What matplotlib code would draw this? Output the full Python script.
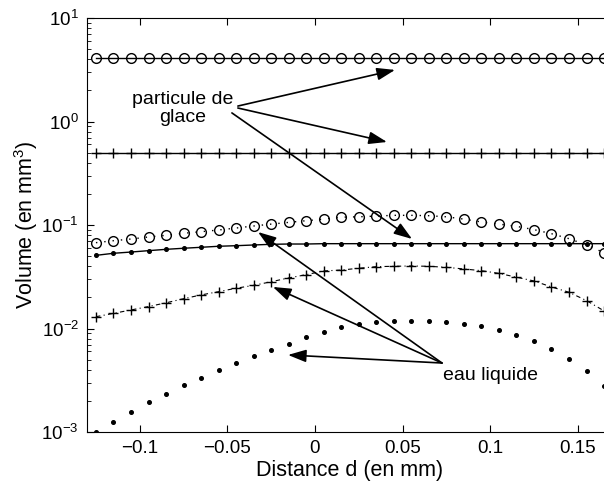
import matplotlib
matplotlib.use('Agg')
import matplotlib.pyplot as plt
import numpy as np

plt.rcParams['font.family'] = ['Liberation Sans', 'DejaVu Sans']
plt.rcParams['mathtext.fontset'] = 'custom'
plt.rcParams['mathtext.rm'] = 'Liberation Sans'
plt.rcParams['mathtext.it'] = 'Liberation Sans:italic'

# distance d (mm), one point every 0.01 mm
d = np.arange(30) * 0.01 - 0.125

# ice particle volumes (constant)
glace_o = [4.15] * 30
glace_plus = [0.5] * 30

# liquid water volumes
eau_o = [0.0675, 0.0705, 0.0732, 0.0766, 0.0795, 0.0832, 0.0861, 0.0895, 0.0935, 0.0978,
         0.102, 0.106, 0.110, 0.114, 0.119, 0.120, 0.122, 0.124, 0.124, 0.123,
         0.120, 0.114, 0.107, 0.102, 0.0971, 0.0902, 0.0824, 0.0738, 0.0641, 0.0540]
eau_line = [0.0509, 0.0533, 0.0548, 0.0565, 0.0582, 0.0596, 0.0609, 0.0623, 0.0631, 0.0641,
            0.0651, 0.0655, 0.0655, 0.066, 0.066, 0.066, 0.066, 0.066, 0.066, 0.066,
            0.066, 0.066, 0.066, 0.066, 0.066, 0.066, 0.066, 0.066, 0.066, 0.066]
eau_plus = [0.0130, 0.0140, 0.0151, 0.0163, 0.0177, 0.0194, 0.0211, 0.0227, 0.0245, 0.0261,
            0.0283, 0.0308, 0.0331, 0.0360, 0.0367, 0.0382, 0.0396, 0.0399, 0.0402, 0.0399,
            0.0390, 0.0376, 0.0362, 0.0341, 0.0313, 0.0288, 0.0252, 0.0224, 0.0186, 0.0148]
eau_dot = [0.00099, 0.00126, 0.00157, 0.00194, 0.00234, 0.00283, 0.00335, 0.00397, 0.00464, 0.00542,
           0.00624, 0.00713, 0.00828, 0.00925, 0.0103, 0.0110, 0.0116, 0.0118, 0.0119, 0.0119,
           0.0116, 0.0110, 0.0105, 0.00968, 0.00865, 0.00757, 0.00638, 0.00511, 0.00391, 0.00278]

xticks = [-0.1, -0.05, 0, 0.05, 0.1, 0.15]
xticklabels = ['\u22120.1', '\u22120.05', '0', '0.05', '0.1', '0.15']

# annotation anchors (data coords)
glace_text = (-0.0753, 1.33)
glace_from = [(-0.044, 1.41), (-0.044, 1.35), (-0.0474, 1.21)]
glace_to = [(0.0457, 3.15), (0.0411, 0.634), (0.0554, 0.0733)]
eau_text = (0.0731, 0.00318)
eau_from = (0.0725, 0.00464)
eau_to = [(-0.0325, 0.0855), (-0.024, 0.0252), (-0.0154, 0.00555)]

fig = plt.figure(figsize=(6.04, 4.88), dpi=100)
ax = fig.add_axes([87.2 / 604, 1 - 432 / 488, 525.6 / 604, 414 / 488])

ax.plot(d, glace_o, 'k-', marker='o', ms=7, mfc='none', mew=1.0, lw=1.0)
ax.plot(d, glace_plus, 'k-', marker='+', ms=7.5, mew=1.0, lw=1.0)
ax.plot(d, eau_o, color='k', ls=(0, (1, 5)), marker='o', ms=7, mfc='none', mew=1.0, lw=1.0)
ax.plot(d, eau_line, 'k-', marker='o', ms=2.6, lw=1.0)
ax.plot(d, eau_plus, color='k', ls=(0, (4, 3, 1, 3)), marker='+', ms=7.5, mew=1.0, lw=0.8)
ax.plot(d, eau_dot, 'k', ls='none', marker='o', ms=2.6)

ax.set_yscale('log')
ax.set_xlim(-0.13, 0.17)
ax.set_ylim(1e-3, 1e1)
ax.set_xticks(xticks)
ax.set_xticklabels(xticklabels)
ax.tick_params(which='both', direction='in', top=True, right=True, labelsize=13.5, pad=6)
ax.tick_params(which='major', length=5)
ax.tick_params(which='minor', length=3)
ax.set_xlabel('Distance d (en mm)', fontsize=15.5, labelpad=2)
ax.set_ylabel('Volume (en mm$^3$)', fontsize=15.5, labelpad=1)

arrow = dict(arrowstyle='-|>,head_length=1.1,head_width=0.38', color='k', lw=1.2,
             shrinkA=0, shrinkB=0, mutation_scale=10)
ax.text(glace_text[0], glace_text[1], 'particule de\nglace', fontsize=14,
        ha='center', va='center', linespacing=1.05)
for start, end in zip(glace_from, glace_to):
    ax.annotate('', xy=end, xytext=start, arrowprops=arrow)
ax.text(eau_text[0], eau_text[1], 'eau liquide', fontsize=14, ha='left', va='baseline')
for end in eau_to:
    ax.annotate('', xy=end, xytext=eau_from, arrowprops=arrow)

fig.savefig('out.png', dpi=100)
